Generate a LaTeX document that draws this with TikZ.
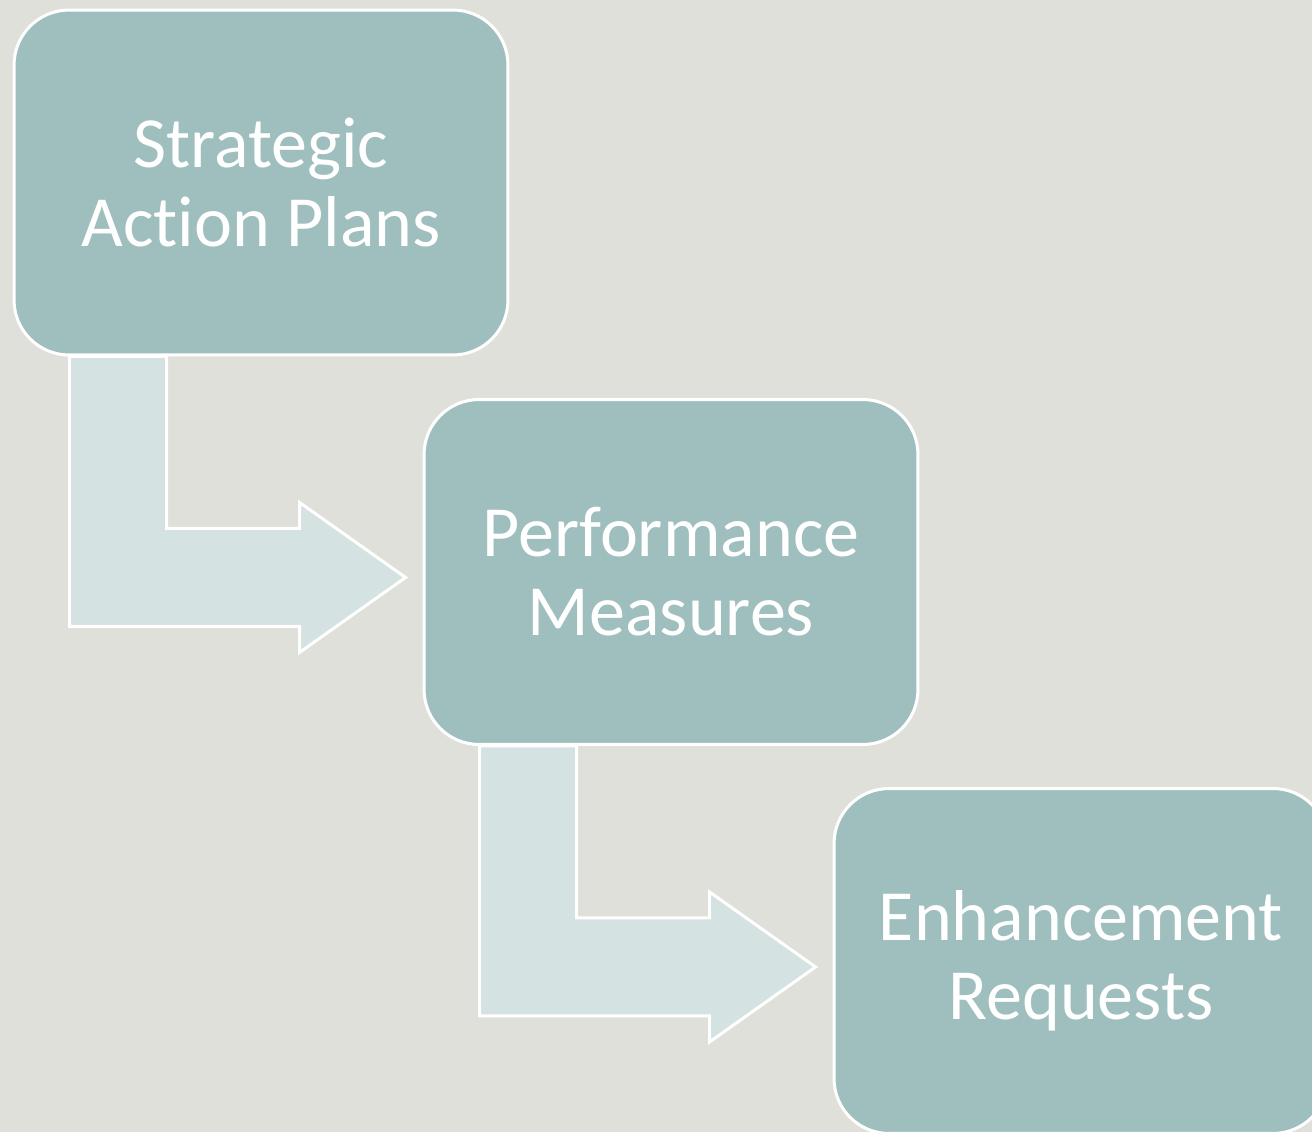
\documentclass[tikz,border=0pt]{standalone}
\usepackage{fontspec}
\setmainfont[Ligatures=NoCommon]{Carlito}
\usetikzlibrary{positioning, calc, backgrounds}
\definecolor{paperGray}{RGB}{224,224,218}
\definecolor{boxTeal}{RGB}{159,190,190}
\definecolor{arrowTeal}{RGB}{212,226,226}
\pgfdeclarelayer{paper}
\pgfsetlayers{paper,background,main}

\begin{document}
\begin{tikzpicture}[
  x=0.02cm, y=-0.02cm,
  stage/.style={draw=white, line width=0.06cm, fill=boxTeal, rounded corners=1.1cm,
    minimum width=9.88cm, minimum height=6.9cm, align=center, text=white,
    font=\fontsize{41}{45}\selectfont},
  bend arrow/.style={draw=white, line width=0.06cm, fill=arrowTeal},
]
  \useasboundingbox (0,0) rectangle (1312,1132);
  \clip (0,0) rectangle (1312,1132);
  \begin{pgfonlayer}{paper}
    \fill[paperGray] (0,0) rectangle (1312,1132);
  \end{pgfonlayer}

  % the three stages, stepping down to the right
  \node[stage] (sap) at (261,182.5) {Strategic\\Action Plans};
  \node[stage] (pm)  at (671,572)   {Performance\\Measures};
  \node[stage] (er)  at (1081,961)  {Enhancement\\Requests};

  % bent arrows leaving each box, tucked under them
  \begin{pgfonlayer}{background}
    \foreach \src in {sap,pm}
      \draw[bend arrow] ($(\src.south west)+(57,0)$) -- ++(97,0) -- ++(0,172)
        -- ++(133,0) -- ++(0,-26) -- ++(106,75) -- ++(-106,75) -- ++(0,-26)
        -- ++(-230,0) -- cycle;
  \end{pgfonlayer}
\end{tikzpicture}
\end{document}
